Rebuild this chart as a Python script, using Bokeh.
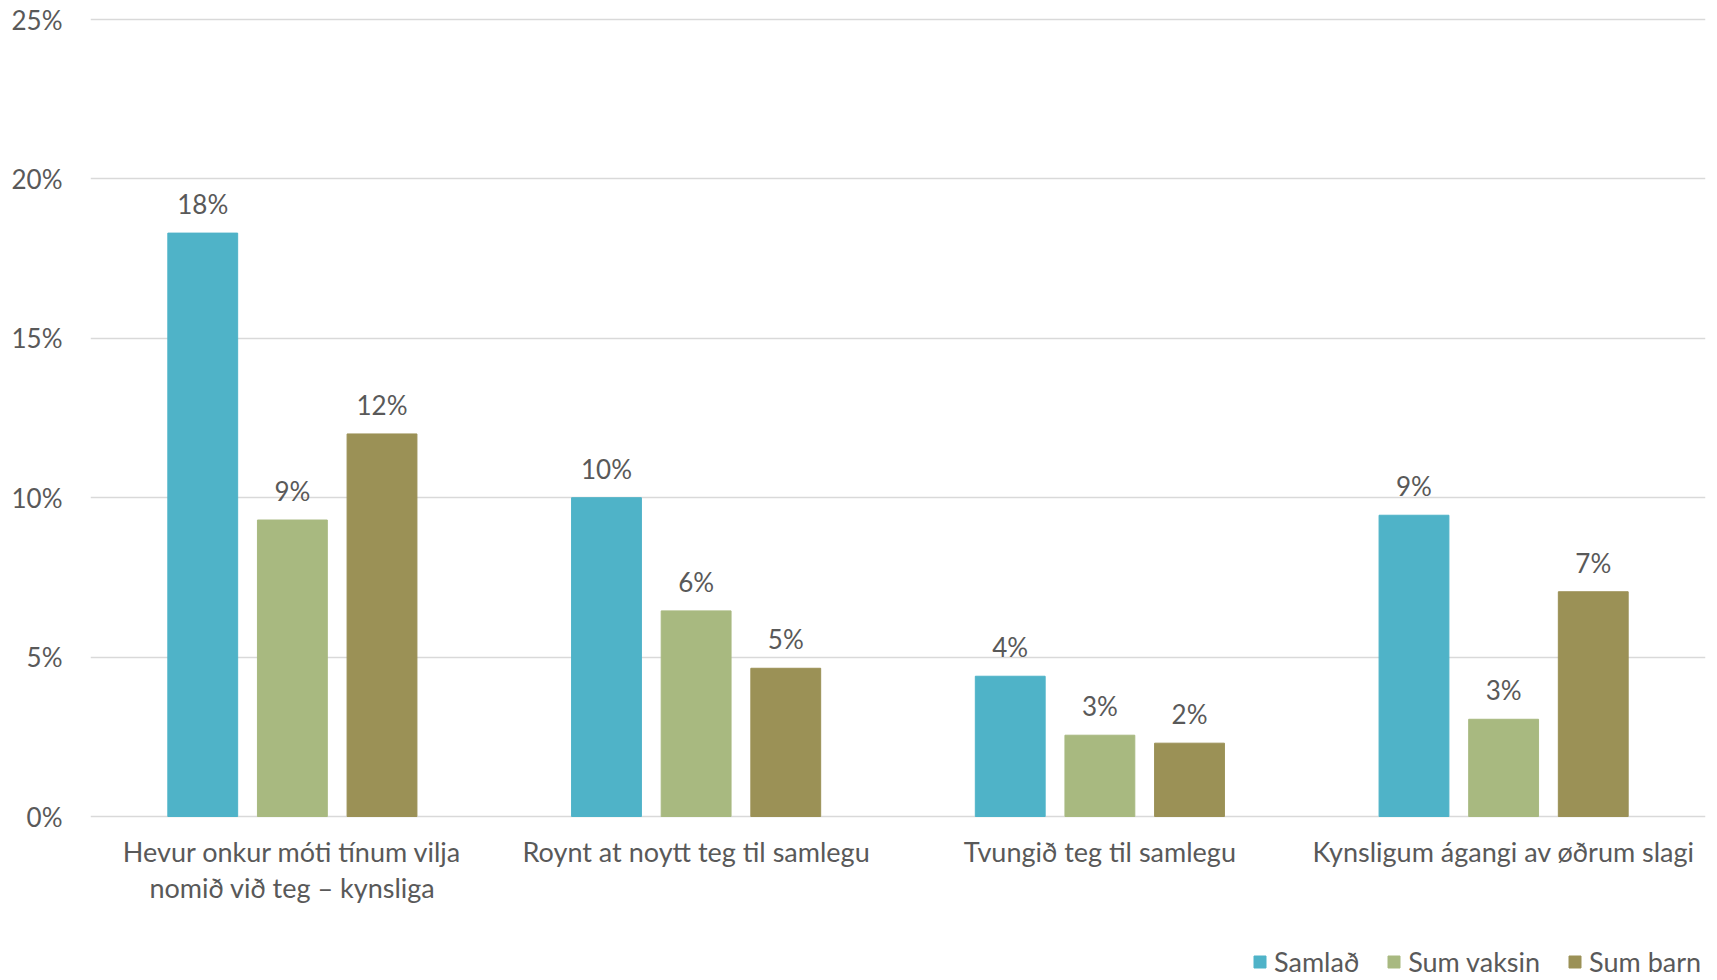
import math
from bokeh.plotting import figure
from bokeh.models import (FactorRange, Range1d, ColumnDataSource, Legend, LegendItem,
                          FixedTicker, PrintfTickFormatter)
from bokeh.transform import dodge
from bokeh.core.properties import value
from bokeh.embed import file_html
from bokeh.resources import INLINE

categories = [
    "Hevur onkur móti tínum vilja nomið við teg – kynsliga",
    "Roynt at noytt teg til samlegu",
    "Tvungið teg til samlegu",
    "Kynsligum ágangi av øðrum slagi",
]
category_labels = [
    "Hevur onkur móti tínum vilja\nnomið við teg – kynsliga",
    "Roynt at noytt teg til samlegu",
    "Tvungið teg til samlegu",
    "Kynsligum ágangi av øðrum slagi",
]
series_names = ["Samlað", "Sum vaksin", "Sum barn"]
samlad = [18.3, 10.0, 4.4, 9.45]
sum_vaksin = [9.3, 6.45, 2.55, 3.05]
sum_barn = [12.0, 4.65, 2.3, 7.05]
y_ticks = [0, 5, 10, 15, 20, 25]

colors = ["#4FB3C8", "#A8B980", "#9B9156"]
offsets = [-0.222, 0.0, 0.222]
bar_width = 0.173
FONT = "Lato"
TXT = "#595959"
FS = "26px"
FS_CAT = "27px"

# frame: 0% at y=816 px, 25% at y=19 px, window height 980
p = figure(width=1717, height=980, x_range=FactorRange(factors=categories),
           y_range=Range1d(-5.144, 25.22), output_backend="svg", toolbar_location=None,
           x_axis_location=None,
           min_border_left=90, min_border_right=12, min_border_top=12, min_border_bottom=0)
p.outline_line_color = None
p.background_fill_color = "white"
p.border_fill_color = "white"

# grid
p.xgrid.grid_line_color = None
p.ygrid.grid_line_color = "#D9D9D9"
p.ygrid.grid_line_width = 1.5
p.ygrid.ticker = FixedTicker(ticks=y_ticks)

renderers = []
for name, vals, col, off in zip(series_names, [samlad, sum_vaksin, sum_barn], colors, offsets):
    src = ColumnDataSource(dict(
        cat=categories, val=vals,
        label=[f"{math.floor(v + 0.5)}%" for v in vals],
    ))
    r = p.vbar(x=dodge("cat", off, range=p.x_range), top="val", bottom=0, width=bar_width,
               source=src, fill_color=col, line_color=col, line_width=1)
    renderers.append(r)
    p.text(x=dodge("cat", off, range=p.x_range), y="val", text="label", source=src,
           text_align="center", text_baseline="alphabetic", y_offset=-29,
           text_font=value(FONT), text_font_size=FS, text_color=TXT)

# category labels under the 0% line
cat_src = ColumnDataSource(dict(cat=categories, lab=category_labels, y=[0] * len(categories)))
p.text(x="cat", y="y", text="lab", source=cat_src, text_align="center", text_baseline="top",
       y_offset=18, text_line_height=1.1,
       text_font=value(FONT), text_font_size=FS_CAT, text_color=TXT)

# y axis
p.yaxis.ticker = FixedTicker(ticks=y_ticks)
p.yaxis.formatter = PrintfTickFormatter(format="%d%%")
p.yaxis.axis_line_color = None
p.yaxis.major_tick_line_color = None
p.yaxis.minor_tick_line_color = None
p.yaxis.major_tick_out = 0
p.yaxis.major_label_standoff = 28
p.yaxis.major_label_text_font = FONT
p.yaxis.major_label_text_font_size = FS
p.yaxis.major_label_text_color = TXT

legend = Legend(items=[LegendItem(label=n, renderers=[r]) for n, r in zip(series_names, renderers)],
                orientation="horizontal", location=(1162, 2),
                glyph_width=15, glyph_height=15, label_standoff=7, spacing=27,
                padding=0, margin=0, border_line_color=None, background_fill_alpha=0,
                label_text_font=FONT, label_text_font_size=FS_CAT, label_text_color=TXT)
p.add_layout(legend, "center")

open("out.html", "w").write(file_html(p, INLINE))
